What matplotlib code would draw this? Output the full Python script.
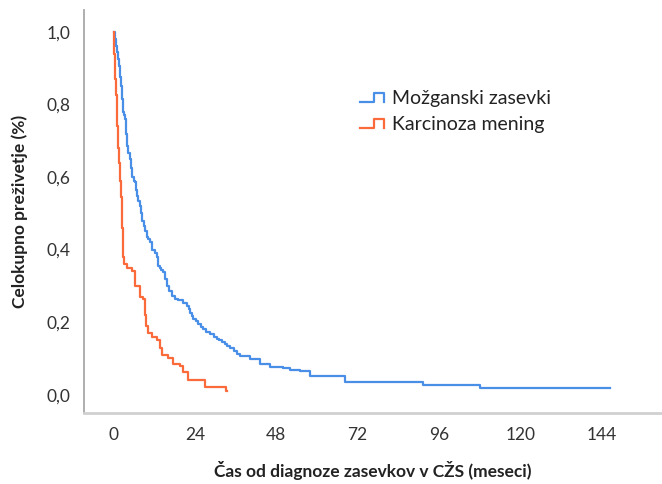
import numpy as np
import matplotlib
matplotlib.use("Agg")
import matplotlib.pyplot as plt
from matplotlib.lines import Line2D
from matplotlib.legend_handler import HandlerBase

plt.rcParams['font.family'] = ['Lato', 'DejaVu Sans']

# Kaplan-Meier values (months, survival)
brain_t = [0, 0.3, 0.6, 0.9, 1.2, 1.5, 1.9, 2.2, 2.5, 2.8,
           3.1, 3.4, 3.7, 4.0, 4.4, 4.9, 5.2, 5.5, 5.9, 6.3,
           6.6, 6.9, 7.3, 7.8, 8.1, 8.4, 8.9, 9.4, 9.9, 10.3,
           10.8, 11.4, 12.1, 12.8, 13.1, 13.6, 14.1, 14.6, 15.2, 15.8,
           16.5, 17.3, 18.2, 19.0, 20.4, 21.7, 22.2, 22.6, 23.1, 23.5,
           24.2, 25.0, 25.7, 26.4, 27.4, 28.5, 29.5, 30.5, 31.2, 32.0,
           32.8, 33.5, 34.4, 35.4, 36.3, 37.3, 40.3, 43.2, 46.2, 50.0,
           52.1, 55.0, 58.0, 68.3, 91.3, 108.1, 146.5]
brain_s = [1.0, 0.98, 0.96, 0.945, 0.925, 0.905, 0.876, 0.85, 0.815, 0.78,
           0.77, 0.76, 0.72, 0.686, 0.665, 0.65, 0.625, 0.60, 0.59, 0.585,
           0.565, 0.548, 0.535, 0.52, 0.50, 0.48, 0.465, 0.45, 0.436, 0.428,
           0.42, 0.40, 0.39, 0.38, 0.355, 0.348, 0.343, 0.338, 0.318, 0.30,
           0.285, 0.272, 0.265, 0.26, 0.252, 0.245, 0.235, 0.225, 0.217, 0.209,
           0.202, 0.195, 0.188, 0.181, 0.174, 0.167, 0.16, 0.154, 0.15, 0.145,
           0.14, 0.135, 0.128, 0.12, 0.113, 0.107, 0.099, 0.085, 0.077, 0.074,
           0.069, 0.066, 0.052, 0.036, 0.027, 0.019, 0.019]

mening_t = [0, 0.1, 0.2, 0.3, 0.4, 0.6, 0.8, 1.0, 1.15, 1.3,
            1.6, 1.9, 2.2, 2.5, 2.6, 2.7, 2.8, 3.2, 4.0, 5.5,
            6.3, 7.8, 8.7, 9.3, 9.6, 10.2, 11.4, 12.8, 13.7, 14.3,
            16.1, 17.6, 19.6, 20.5, 22.0, 27.0, 33.3, 33.5]
mening_s = [1.0, 0.97, 0.94, 0.91, 0.87, 0.85, 0.825, 0.80, 0.74, 0.68,
            0.64, 0.59, 0.545, 0.50, 0.46, 0.42, 0.38, 0.36, 0.35, 0.34,
            0.30, 0.27, 0.265, 0.22, 0.19, 0.17, 0.16, 0.15, 0.13, 0.11,
            0.10, 0.085, 0.08, 0.063, 0.04, 0.022, 0.011, 0.011]

labels = ['Možganski zasevki', 'Karcinoza mening']
colors = ['#4a8fe7', '#fb6a3a']
xticks = [0, 24, 48, 72, 96, 120, 144]
yticks = [0.0, 0.2, 0.4, 0.6, 0.8, 1.0]


class StepHandler(HandlerBase):
    def create_artists(self, legend, orig_handle, xdescent, ydescent,
                       width, height, fontsize, trans):
        w, h = width, height
        xs = [0, w * 0.5, w * 0.5, w * 0.85, w * 0.85]
        ys = [h * 0.15, h * 0.15, h * 0.85, h * 0.85, h * 0.15]
        ln = Line2D(xs, ys, color=orig_handle.get_color(), lw=1.6)
        ln.set_transform(trans)
        return [ln]


fig = plt.figure(figsize=(6.62, 4.84), dpi=100)
ax = fig.add_axes([0.127, 0.147, 0.873, 0.832])

h1, = ax.plot(brain_t, brain_s, drawstyle='steps-post', color=colors[0], lw=1.6)
h2, = ax.plot(mening_t, mening_s, drawstyle='steps-post', color=colors[1], lw=1.6)

ax.set_xlim(-8.7, 161.8)
ax.set_ylim(-0.05, 1.06)
ax.set_xticks(xticks)
ax.set_yticks(yticks)
ax.set_yticklabels([('%.1f' % v).replace('.', ',') for v in yticks])
ax.tick_params(length=0, labelsize=12.5, colors='#333333', pad=10)
for s in ['top', 'right']:
    ax.spines[s].set_visible(False)
ax.spines['left'].set_color('#a8a8a8')
ax.spines['left'].set_linewidth(1.3)
ax.spines['bottom'].set_color('#d0d0d0')
ax.spines['bottom'].set_linewidth(2)

ax.set_xlabel('Čas od diagnoze zasevkov v CŽS (meseci)', fontsize=12.5,
              fontweight='bold', color='#222222', labelpad=13)
ax.set_ylabel('Celokupno preživetje (%)', fontsize=12.5, fontweight='bold',
              color='#222222', labelpad=13)

ax.legend([h1, h2], labels, handler_map={Line2D: StepHandler()},
          loc='upper left', bbox_to_anchor=(0.46, 0.825), frameon=False,
          fontsize=14, handlelength=1.5, handletextpad=0.15, labelspacing=0.45,
          borderpad=0, labelcolor='#222222')

fig.savefig('out.png', dpi=100)
